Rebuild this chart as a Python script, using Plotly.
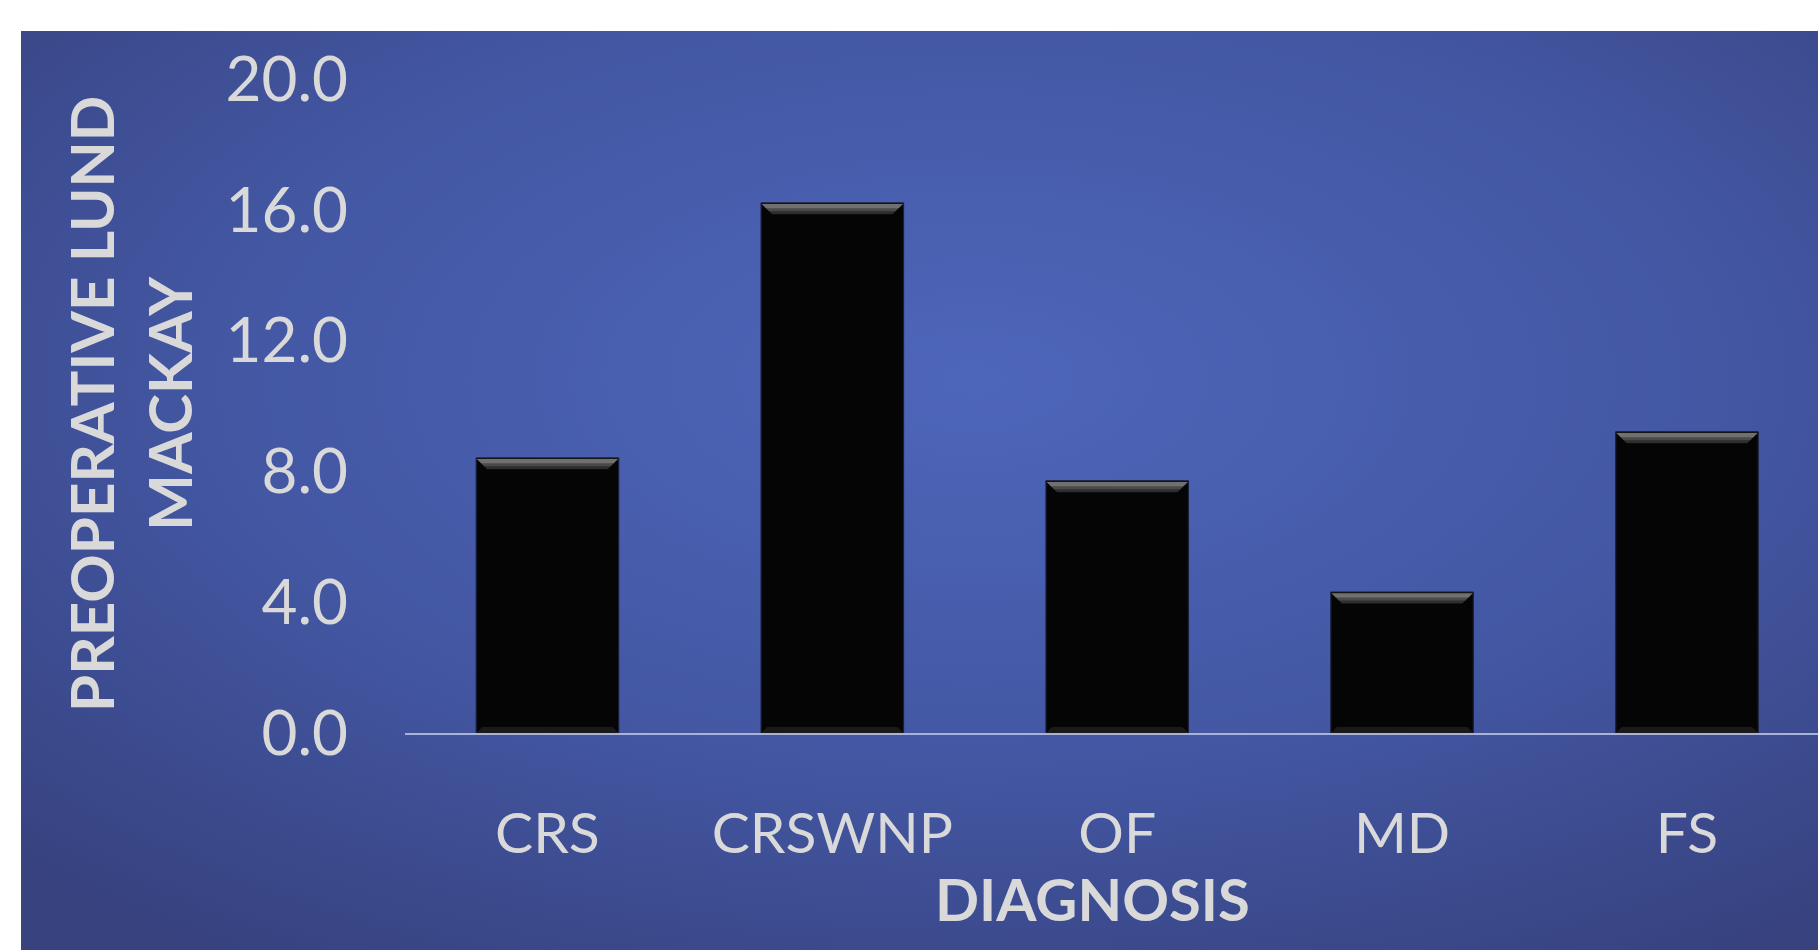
import base64
import plotly.graph_objects as go

# Diagnosis groups and their mean preoperative Lund-Mackay scores
categories = ["CRS", "CRSWNP", "OF", "MD", "FS"]
scores = [8.4, 16.2, 7.7, 4.3, 9.2]
y_ticks = [0.0, 4.0, 8.0, 12.0, 16.0, 20.0]
y_tick_labels = [f"{v:.1f}" for v in y_ticks]

W, H = 1818, 950
TEXT = "#D9D9D9"
FONT = "Lato"
BAR_W = 0.5

# Panel background: soft radial blue gradient drawn as an inline SVG
svg = (
    '<svg xmlns="http://www.w3.org/2000/svg" width="1797" height="919" viewBox="0 0 1797 919">'
    '<defs><radialGradient id="g" cx="0.53" cy="0.38" r="0.75" gradientUnits="objectBoundingBox">'
    '<stop offset="0" stop-color="#4E66BA"/>'
    '<stop offset="0.55" stop-color="#4357A3"/>'
    '<stop offset="1" stop-color="#37427F"/>'
    '</radialGradient></defs>'
    '<rect width="1797" height="919" fill="url(#g)"/></svg>'
)
bg_src = "data:image/svg+xml;base64," + base64.b64encode(svg.encode()).decode()

x_pos = list(range(len(categories)))

fig = go.Figure()
fig.add_trace(go.Bar(
    x=x_pos,
    y=scores,
    width=BAR_W,
    marker=dict(color="#050505", line=dict(color="#1B1F3C", width=1.2)),
    hoverinfo="x+y",
))

# Bevelled top edge on each bar, built from the bar value
px_per_unit_y = (733 - 79) / 20.0
px_per_unit_x = 284.5
shapes = []
bands = [(11, "#2E2E2E"), (8, "#4A4A4A"), (5, "#707070")]
for i, v in enumerate(scores):
    x0, x1 = i - BAR_W / 2, i + BAR_W / 2
    for depth_px, col in bands:
        dy = depth_px / px_per_unit_y
        dx = depth_px / px_per_unit_x
        path = (f"M {x0},{v} L {x1},{v} L {x1 - dx},{v - dy} "
                f"L {x0 + dx},{v - dy} Z")
        shapes.append(dict(type="path", xref="x", yref="y", path=path,
                           fillcolor=col, line=dict(width=0), layer="above"))
    # thin dark rim along the very top
    shapes.append(dict(type="line", xref="x", yref="y", x0=x0, x1=x1, y0=v, y1=v,
                       line=dict(color="#151515", width=1.5), layer="above"))
    # faint lower bevel
    dyb = 6 / px_per_unit_y
    dxb = 6 / px_per_unit_x
    shapes.append(dict(type="path", xref="x", yref="y",
                       path=f"M {x0},0 L {x1},0 L {x1 - dxb},{dyb} L {x0 + dxb},{dyb} Z",
                       fillcolor="#1A1A1A", line=dict(width=0), layer="above"))

fig.update_layout(
    width=W, height=H,
    margin=dict(l=405, r=0, t=79, b=217, pad=0),
    paper_bgcolor="white",
    plot_bgcolor="rgba(0,0,0,0)",
    showlegend=False,
    images=[dict(source=bg_src, xref="paper", yref="paper",
                 x=-405 / (W - 405) + 21 / (W - 405), y=1 + (79 - 31) / (733 - 79),
                 sizex=(W - 21) / (W - 405), sizey=(H - 31) / (733 - 79),
                 xanchor="left", yanchor="top", sizing="stretch", layer="below")],
    shapes=shapes,
    font=dict(family=FONT, color=TEXT),
    xaxis=dict(
        range=[-0.5, 4.46],
        tickvals=x_pos, ticktext=categories,
        tickfont=dict(family=FONT, size=57, color=TEXT),
        ticks="", showgrid=False, zeroline=False,
        showline=True, linecolor="#A9B3DA", linewidth=2,
        ticklabelstandoff=50,
    ),
    yaxis=dict(
        range=[0, 20],
        tickvals=y_ticks, ticktext=y_tick_labels,
        tickfont=dict(family=FONT, size=62, color=TEXT),
        ticks="", showgrid=False, zeroline=False, showline=False,
        ticklabelstandoff=56,
    ),
    annotations=[
        dict(text="<b>PREOPERATIVE LUND<br>MACKAY</b>", textangle=-90,
             xref="paper", yref="paper",
             x=(130 - 405) / (W - 405), y=(733 - 404) / (733 - 79),
             xanchor="center", yanchor="middle", showarrow=False,
             font=dict(family=FONT, size=60, color=TEXT)),
        dict(text="<b>DIAGNOSIS</b>",
             xref="paper", yref="paper",
             x=(1092 - 405) / (W - 405), y=-(898 - 733) / (733 - 79),
             xanchor="center", yanchor="middle", showarrow=False,
             font=dict(family=FONT, size=58, color=TEXT)),
    ],
)

fig.write_html("out.html")
